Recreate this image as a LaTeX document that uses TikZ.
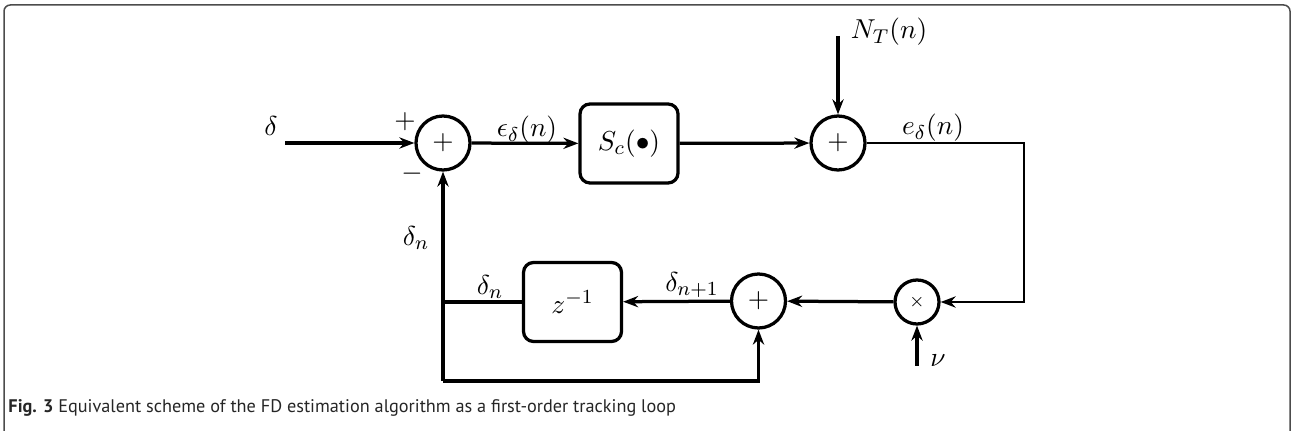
\documentclass[tikz,border=0pt]{standalone}
\usepackage{fontspec}
\newfontfamily\capfont{PT Sans}
\usetikzlibrary{arrows.meta}
\begin{document}
\begin{tikzpicture}[x=0.4pt,y=-0.4pt,
  every node/.style={font=\fontsize{10.8}{13}\selectfont},
  sumnode/.style={circle,draw,line width=1.3pt,minimum size=21.6pt,inner sep=0pt},
  mulnode/.style={circle,draw,line width=1.3pt,minimum size=17.6pt,inner sep=0pt},
  block/.style={draw,line width=1.3pt,rounded corners=4pt,minimum width=39.2pt,minimum height=31.6pt,inner sep=0pt},
  sig/.style={line width=1.3pt,-{Stealth[length=6pt,width=4.5pt]}},
  wire/.style={line width=1.3pt},
  thinwire/.style={line width=1pt},
  lbl/.style={inner sep=0pt}]
\useasboundingbox (0,0) rectangle (1291,431);
% frame
\draw[gray!60!black,line width=0.6pt,rounded corners=2.5pt] (4,440) -- (4,5) -- (1290,5) -- (1290,440);
% nodes
\node[sumnode] (s1) at (443,143) {$+$};
\node[block] (sc) at (629,143.5) {$S_c(\bullet)$};
\node[sumnode] (s2) at (838,143) {$+$};
\node[mulnode] (m) at (917,302) {\scriptsize$\times$};
\node[sumnode] (s3) at (758.5,301) {$+$};
\node[block] (z) at (572.5,302) {$z^{-1}$};
\coordinate (in) at (285,143);
\coordinate (nt) at (838,36);
\coordinate (c1) at (1024,143);
\coordinate (c2) at (1024,302);
\coordinate (nu) at (917,366);
\coordinate (j) at (443,302);
\coordinate (b1) at (443,381);
\coordinate (b2) at (758.5,381);
% labels
\node[lbl] at (271,126) {$\delta$};
\node[lbl] at (405,122) {$+$};
\node[lbl] at (412,174) {$-$};
\node[lbl] at (527,130) {$\epsilon_\delta(n)$};
\node[lbl] at (889,32) {$N_T(n)$};
\node[lbl] at (933,128) {$e_\delta(n)$};
\node[lbl] at (938,361) {$\nu$};
\node[lbl] at (416,238) {$\delta_n$};
\node[lbl] at (490,287) {$\delta_n$};
\node[lbl] at (692,285) {$\delta_{n+1}$};
% connectors
\draw[sig] (in) -- (s1);
\draw[sig] (s1) -- (sc);
\draw[sig] (sc) -- (s2);
\draw[sig] (nt) -- (s2);
\draw[thinwire,-{Stealth[length=6pt,width=4.5pt]}] (s2) -- (c1) -- (c2) -- (m);
\draw[sig] (nu) -- (m);
\draw[sig] (m) -- (s3);
\draw[sig] (s3) -- (z);
\draw[wire] (z) -- (j);
\draw[sig] (b2 -| j) -- (b2) -- (s3);
\draw[sig] (b1) -- (s1);
% caption
\node[anchor=base west,inner sep=0pt,text=black!85,font=\capfont\fontsize{7.3}{8}\selectfont] at (8,412) {\textbf{Fig. 3} Equivalent scheme of the FD estimation algorithm as a first-order tracking loop};
\end{tikzpicture}
\end{document}
